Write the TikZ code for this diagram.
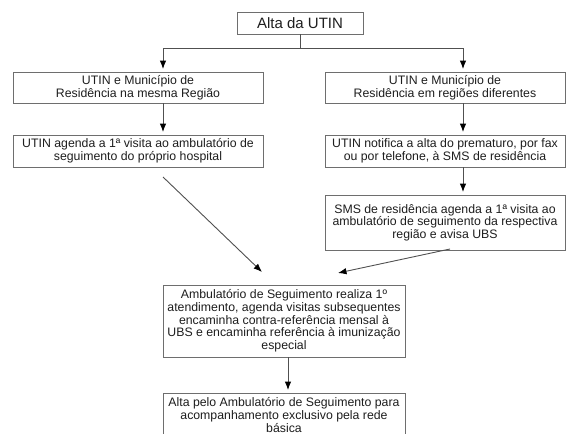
\documentclass[tikz,border=0pt]{standalone}
\usepackage{fontspec}
\setmainfont{Liberation Sans}
\usetikzlibrary{arrows.meta}
\definecolor{boxline}{HTML}{6E6E6E}
\definecolor{conn}{HTML}{505050}
\definecolor{txt}{HTML}{1E1E1E}
\begin{document}
\begin{tikzpicture}[x=1pt,y=-1pt,
  box/.style={draw=boxline,line width=0.9pt,rectangle,align=center,inner sep=0pt,text=txt,
    font=\fontsize{12.3}{12.7}\selectfont},
  conline/.style={draw=conn,line width=0.9pt},
  arr/.style={conline,-{Latex[length=8.5pt,width=6.5pt,color=black]},shorten >=2.5pt}]
\useasboundingbox[fill=white] (0,0) rectangle (566,434);
\node[box,minimum width=126pt,minimum height=22pt,font=\fontsize{15}{17}\selectfont] (alta) at (300,23) {Alta da UTIN};
\node[box,minimum width=250pt,minimum height=31pt] (b1l) at (138,87.5) {UTIN e Município de\\Residência na mesma Região};
\node[box,minimum width=240pt,minimum height=31pt] (b1r) at (445,87.5) {UTIN e Município de\\Residência em regiões diferentes};
\node[box,minimum width=250pt,minimum height=32pt] (b2l) at (138,151) {UTIN agenda a 1ª visita ao ambulatório de\\seguimento do próprio hospital};
\node[box,minimum width=240pt,minimum height=32pt] (b2r) at (445,151) {UTIN notifica a alta do prematuro, por fax\\ou por telefone, à SMS de residência};
\node[box,minimum width=240pt,minimum height=55pt] (b3r) at (445,222.5) {SMS de residência agenda a 1ª visita ao\\ambulatório de seguimento da respectiva\\região e avisa UBS};
\node[box,minimum width=242pt,minimum height=72pt] (b4) at (284,321) {Ambulatório de Seguimento realiza 1º\\atendimento, agenda visitas subsequentes\\encaminha contra-referência mensal à\\UBS e encaminha referência à imunização\\especial};
\node[box,minimum width=242pt,minimum height=44pt] (b5) at (284,415) {Alta pelo Ambulatório de Seguimento para\\acompanhamento exclusivo pela rede\\básica};
\coordinate (j) at (300,48);
\coordinate (jl) at (163,48);
\coordinate (jr) at (463,48);
\coordinate (dl1) at (163,177);
\coordinate (dl2) at (262,272);
\coordinate (dr1) at (450,249);
\coordinate (dr2) at (338,273);
\coordinate (jb) at (288,357);
\draw[conline] (alta.south) -- (j);
\draw[conline] (jl) -- (jr);
\draw[arr] (jl) -- (jl |- b1l.north);
\draw[arr] (jr) -- (jr |- b1r.north);
\draw[arr] (jl |- b1l.south) -- (jl |- b2l.north);
\draw[arr] (jr |- b1r.south) -- (jr |- b2r.north);
\draw[arr] (jr |- b2r.south) -- (jr |- b3r.north);
\draw[arr,shorten >=0pt] (dl1) -- (dl2);
\draw[arr,shorten >=0pt] (dr1) -- (dr2);
\draw[arr] (jb |- b4.south) -- (jb |- b5.north);
\end{tikzpicture}
\end{document}
